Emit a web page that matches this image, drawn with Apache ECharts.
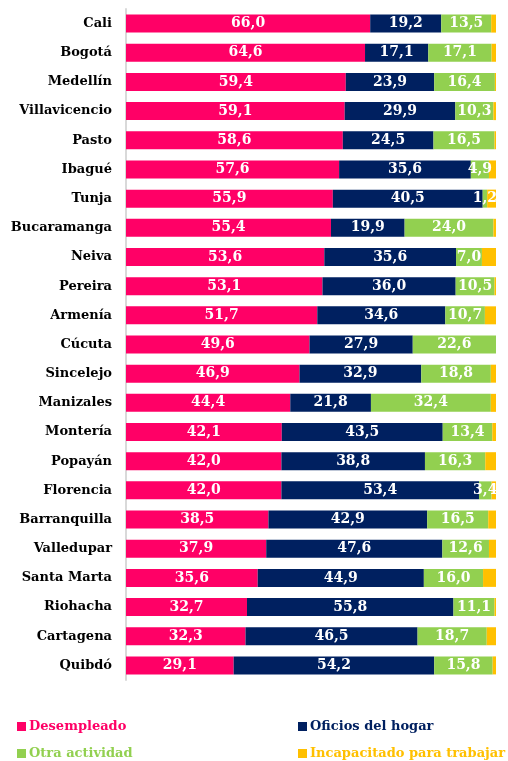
<!DOCTYPE html>
<html>
<head>
<meta charset="utf-8">
<script src="https://cdn.jsdelivr.net/npm/echarts@6/dist/echarts.min.js"></script>
<style>
  html, body { margin: 0; padding: 0; background: #fff; }
  #chart { width: 508px; height: 761px; }
</style>
</head>
<body>
<div id="chart"></div>
<script>
var ciudades = ['Cali', 'Bogotá', 'Medellín', 'Villavicencio', 'Pasto', 'Ibagué', 'Tunja',
    'Bucaramanga', 'Neiva', 'Pereira', 'Armenía', 'Cúcuta', 'Sincelejo', 'Manizales',
    'Montería', 'Popayán', 'Florencia', 'Barranquilla', 'Valledupar', 'Santa Marta',
    'Riohacha', 'Cartagena', 'Quibdó'];
var desempleado = [66.0, 64.6, 59.4, 59.1, 58.6, 57.6, 55.9, 55.4, 53.6, 53.1, 51.7, 49.6,
    46.9, 44.4, 42.1, 42.0, 42.0, 38.5, 37.9, 35.6, 32.7, 32.3, 29.1];
var oficios = [19.2, 17.1, 23.9, 29.9, 24.5, 35.6, 40.5, 19.9, 35.6, 36.0, 34.6, 27.9,
    32.9, 21.8, 43.5, 38.8, 53.4, 42.9, 47.6, 44.9, 55.8, 46.5, 54.2];
var otra = [13.5, 17.1, 16.4, 10.3, 16.5, 4.9, 1.2, 24.0, 7.0, 10.5, 10.7, 22.6,
    18.8, 32.4, 13.4, 16.3, 3.4, 16.5, 12.6, 16.0, 11.1, 18.7, 15.8];
var incapacitado = [1.3, 1.2, 0.3, 0.7, 0.4, 1.9, 2.4, 0.7, 3.8, 0.4, 3.0, 0.0,
    1.4, 1.4, 1.0, 2.9, 1.2, 2.1, 1.9, 3.5, 0.4, 2.5, 0.9];

var nombres = ['Desempleado', 'Oficios del hogar', 'Otra actividad', 'Incapacitado para trabajar'];
var colores = ['#FF0066', '#002060', '#92D050', '#FFC000'];

var chart = echarts.init(document.getElementById('chart'));
var fuente = "'DejaVu Serif', serif";

function etiqueta(p) {
    return p.value.toFixed(1).replace('.', ',');
}

function serie(i, datos, conEtiqueta) {
    return {
        name: nombres[i],
        type: 'bar',
        stack: 'total',
        barWidth: 18,
        color: colores[i],
        data: datos,
        label: {
            show: conEtiqueta,
            position: 'inside',
            color: '#fff',
            fontFamily: fuente,
            fontWeight: 'bold',
            fontSize: 14,
            formatter: etiqueta
        }
    };
}

// una leyenda por item para poder colocarlas en dos columnas
var posLeyenda = [[12, 715], [293, 715], [12, 742], [293, 742]];
var leyendas = [];
for (var i = 0; i < 4; i++) {
    leyendas.push({
        data: [nombres[i]],
        left: posLeyenda[i][0],
        top: posLeyenda[i][1],
        icon: 'rect',
        itemWidth: 9,
        itemHeight: 9,
        itemGap: 0,
        textStyle: {
            color: colores[i],
            fontFamily: fuente,
            fontWeight: 'bold',
            fontSize: 13,
            padding: [0, 0, 0, -2]
        }
    });
}

var option = {
    animation: false,
    legend: leyendas,
    grid: {
        left: 126,
        right: 12,
        top: 9,
        height: 671
    },
    xAxis: {
        type: 'value',
        min: 0,
        max: 100,
        show: false
    },
    yAxis: {
        type: 'category',
        inverse: true,
        data: ciudades,
        axisLine: { lineStyle: { color: '#D9D9D9', width: 2 } },
        axisTick: { show: false },
        axisLabel: {
            color: '#000',
            fontFamily: fuente,
            fontWeight: 'bold',
            fontSize: 13,
            margin: 14
        }
    },
    series: [
        serie(0, desempleado, true),
        serie(1, oficios, true),
        serie(2, otra, true),
        serie(3, incapacitado, false)
    ]
};

chart.setOption(option);
</script>
</body>
</html>
